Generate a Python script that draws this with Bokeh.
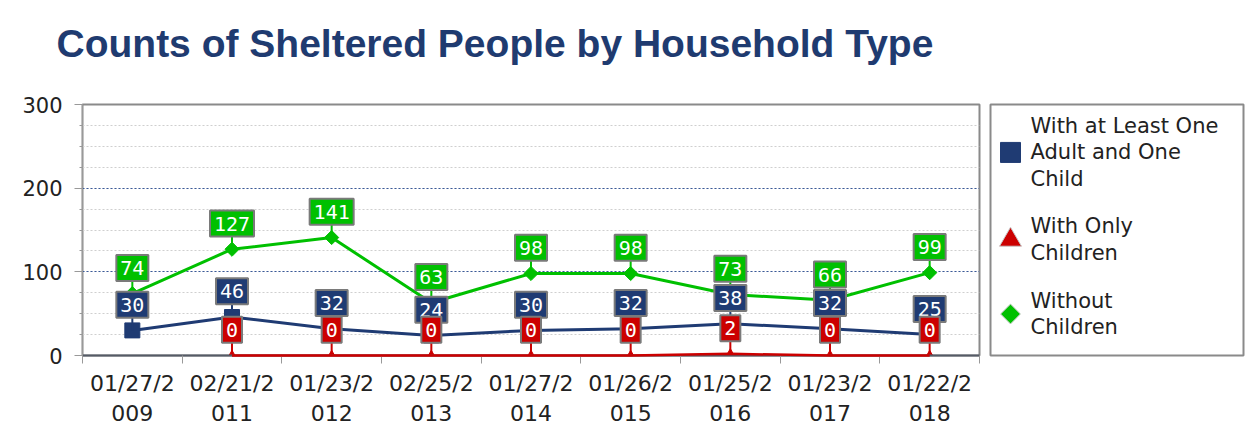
import math
from bokeh.plotting import figure
from bokeh.models import Range1d, FixedTicker, Title
from bokeh.layouts import row
from bokeh.embed import file_html
from bokeh.resources import INLINE
from bokeh.core.properties import value

# ---- data ----
dates = ["01/27/2009", "02/21/2011", "01/23/2012", "02/25/2013", "01/27/2014",
         "01/26/2015", "01/25/2016", "01/23/2017", "01/22/2018"]
adult_child = [30, 46, 32, 24, 30, 32, 38, 32, 25]
only_children = [None, 0, 0, 0, 0, 0, 2, 0, 0]
without_children = [74, 127, 141, 63, 98, 98, 73, 66, 99]
series_names = ["With at Least One\nAdult and One\nChild", "With Only\nChildren", "Without\nChildren"]
y_ticks = [0, 100, 200, 300]

BLUE = "#1F3B73"
RED = "#CC0000"
GREEN = "#00C000"

W, H = 985, 433
MB_TOP, MB_BOTTOM, MB_LEFT, MB_RIGHT = 104, 75, 82, 6
frame_h = H - MB_TOP - MB_BOTTOM
px = 300 / frame_h  # data units per pixel

n = len(dates)
xs = [i + 0.5 for i in range(n)]

p = figure(width=W, height=H, output_backend="svg", toolbar_location=None,
           x_range=Range1d(0, n), y_range=Range1d(0, 300),
           min_border_top=MB_TOP, min_border_bottom=MB_BOTTOM,
           min_border_left=MB_LEFT, min_border_right=MB_RIGHT)
p.background_fill_color = "white"
p.border_fill_color = "white"
p.outline_line_color = "#8A8A8A"
p.outline_line_width = 2

p.title.text = "Counts of Sheltered People by Household Type"
p.title.text_font = "Liberation Sans"
p.title.text_font_style = "bold"
p.title.text_font_size = "39px"
p.title.text_color = "#1F3B70"
p.title.align = "left"
p.title.offset = -26
p.title.standoff = 36
# spacer between title and plot area
p.add_layout(Title(text=" ", text_font_size="10px", standoff=9), "above")

# x axis
xa = p.xaxis[0]
xa.ticker = FixedTicker(ticks=xs, minor_ticks=list(range(n + 1)))
xa.major_label_overrides = {x: d[:7] + "\n" + d[7:] for x, d in zip(xs, dates)}
xa.major_tick_out = 0
xa.major_tick_in = 0
xa.minor_tick_out = 8
xa.minor_tick_in = 0
xa.minor_tick_line_color = "#999999"
xa.axis_line_color = "#555B66"
xa.axis_line_width = 2
xa.major_label_standoff = 7
xa.major_label_text_font = "DejaVu Sans"
xa.major_label_text_font_size = "22px"
xa.major_label_text_color = "#222222"

# y axis
ya = p.yaxis[0]
ya.ticker = FixedTicker(ticks=y_ticks, minor_ticks=list(range(0, 301, 25)))
ya.major_tick_out = 8
ya.major_tick_in = 0
ya.minor_tick_out = 3
ya.minor_tick_in = 0
ya.major_tick_line_color = "#999999"
ya.minor_tick_line_color = "#999999"
ya.axis_line_color = "#999999"
ya.major_label_standoff = 12
ya.major_label_text_font = "DejaVu Sans"
ya.major_label_text_font_size = "21px"
ya.major_label_text_color = "#222222"

p.xgrid.visible = False
p.ygrid.grid_line_color = "#3A5A9A"
p.ygrid.grid_line_dash = "2 2"
p.ygrid.grid_line_width = 1
p.ygrid.minor_grid_line_color = "#CFCFCF"
p.ygrid.minor_grid_line_dash = "2 2"

# lines + markers
p.line(xs, adult_child, line_color=BLUE, line_width=3)
p.line(xs, without_children, line_color=GREEN, line_width=3)
red_line = p.line(xs, [float("nan") if v is None else v for v in only_children],
                  line_color=RED, line_width=2.5)
red_line.level = "annotation"
p.scatter(xs, adult_child, marker="square", size=15, fill_color=BLUE, line_color=BLUE)
rx = [x for x, v in zip(xs, only_children) if v is not None]
rv = [v for v in only_children if v is not None]
p.scatter(rx, rv, marker="triangle", size=9, fill_color=RED, line_color=RED)
p.scatter(xs, without_children, marker="square", angle=math.pi / 4, size=10,
          fill_color=GREEN, line_color=GREEN)

stem = 13
box_h = 26
all_series = [(xs, adult_child, BLUE), (rx, rv, RED), (xs, without_children, GREEN)]
for sx, vals, col in all_series:
    p.segment(sx, vals, sx, [v + stem * px for v in vals], line_color=col, line_width=2)

for sx, vals, col in all_series:
    labels = [str(v) for v in vals]
    cy = [v + (stem + box_h / 2) * px for v in vals]
    widths = [8 + 12 * len(t) for t in labels]
    p.rect(sx, cy, width=widths, height=box_h, width_units="screen", height_units="screen",
           fill_color=col, line_color="#7A7A7A", line_width=2)
    p.text(sx, cy, text=labels, text_align="center", text_baseline="middle",
           text_font=value("DejaVu Sans Mono"), text_font_size="20px", text_color="white")

# legend panel
LW = 266
LT, LB, LL, LR = 101, 78, 5, 8
lg = figure(width=LW, height=H, output_backend="svg", toolbar_location=None,
            x_range=Range1d(0, LW - LL - LR), y_range=Range1d(H - LT - LB, 0),
            min_border_top=LT, min_border_bottom=LB, min_border_left=LL, min_border_right=LR,
            x_axis_type=None, y_axis_type=None)
lg.grid.visible = False
lg.outline_line_color = "#8A8A8A"
lg.outline_line_width = 2
lg.background_fill_color = "white"
lg.border_fill_color = "white"

line_h = 27
gap = 21
cursor = 8
markers = [("square", BLUE, 20, 0), ("triangle", RED, 22, 0), ("square", GREEN, 14, math.pi / 4)]
for name, (mk, col, sz, ang) in zip(series_names, markers):
    h = name.count("\n") * line_h + line_h
    cy = cursor + h / 2
    lg.scatter([20], [cy], marker=mk, size=sz, angle=ang, fill_color=col,
               line_color="#C8C8C8" if col != BLUE else col)
    lg.text([40], [cy], text=[name], text_baseline="middle", text_align="left",
            text_font=value("DejaVu Sans"), text_font_size="21px", text_color="#222222",
            text_line_height=1.12)
    cursor += h + gap

layout = row(p, lg)
open("out.html", "w").write(file_html(layout, INLINE))
